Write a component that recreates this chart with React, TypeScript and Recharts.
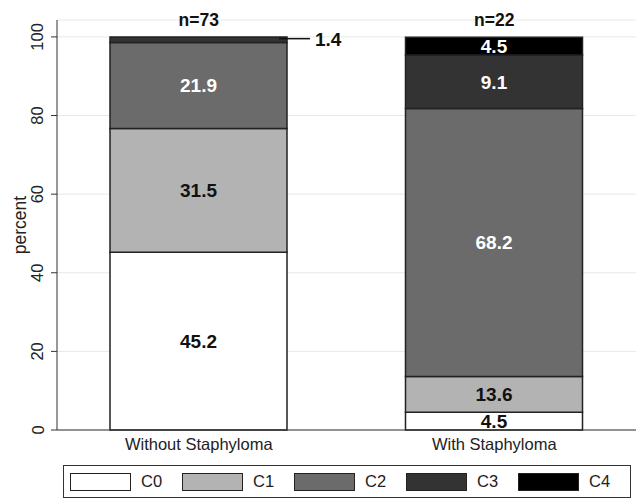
import React from 'react';
import { BarChart, Bar, XAxis, YAxis, CartesianGrid, LabelList, Legend, ReferenceDot, Label } from 'recharts';

const categories = ['Without Staphyloma', 'With Staphyloma'];
const sampleSizes = ['n=73', 'n=22'];
const seriesKeys = ['C0', 'C1', 'C2', 'C3', 'C4'];
const c0Values = [45.2, 4.5];
const c1Values = [31.5, 9.1];
const c2Values = [21.9, 68.2];
const c3Values = [1.4, 13.6];
const c4Values = [0, 4.5];
const labelsWithout = ['45.2', '31.5', '21.9', '1.4', ''];
const labelsWith = ['4.5', '13.6', '68.2', '9.1', '4.5'];
const yTicks = [0, 20, 40, 60, 80, 100];

const seriesValues = [c0Values, c1Values, c2Values, c3Values, c4Values];
const labelSets = [labelsWithout, labelsWith];
const fills = ['#ffffff', '#b3b3b3', '#6b6b6b', '#333333', '#000000'];
const textFills = ['#111111', '#111111', '#ffffff', '#ffffff', '#ffffff'];
const FONT = '"Liberation Sans", Arial, Helvetica, sans-serif';

const data = categories.map((cat, i) => {
  const row: any = { cat, n: sampleSizes[i] };
  seriesKeys.forEach((k, s) => {
    row[k] = seriesValues[s][i];
    row[k + '_label'] = labelSets[i][s];
  });
  return row;
});

const makeLabel = (s: number) => (props: any) => {
  const vb = props.viewBox && props.viewBox.width !== undefined ? props.viewBox : props;
  const x = Number(vb.x), y = Number(vb.y), w = Number(vb.width), h = Number(vb.height);
  const v = props.value;
  if (v === '' || v === undefined || v === null) return null;
  const cy = y + h / 2;
  if (Math.abs(h) < 8) {
    return (
      <g>
        <line x1={x + w - 8} y1={cy - 1} x2={x + w + 23} y2={cy - 1} stroke="#111" strokeWidth={1.5} />
        <text x={x + w + 28} y={cy} dy="0.36em" textAnchor="start" fontFamily={FONT} fontWeight="bold" fontSize={19} fill="#111">{v}</text>
      </g>
    );
  }
  return (
    <text x={x + w / 2} y={cy} dy="0.36em" textAnchor="middle" fontFamily={FONT} fontWeight="bold" fontSize={19} fill={textFills[s]}>{v}</text>
  );
};

const YTick = (props: any) => {
  const { x, y, payload } = props;
  const tx = x - 7.5;
  return (
    <text x={tx} y={y} transform={`rotate(-90 ${tx} ${y})`} textAnchor="middle" fontFamily={FONT} fontSize={16.5} fill="#222">{payload.value}</text>
  );
};

const XTick = (props: any) => {
  const { x, y, payload } = props;
  return (
    <text x={x} y={y + 19.5} textAnchor="middle" fontFamily={FONT} fontSize={16.5} fill="#222">{payload.value}</text>
  );
};

const LegendBox = () => (
  <div style={{
    boxSizing: 'border-box', width: 568, height: 33, border: '1px solid #333', background: '#fff',
    display: 'flex', alignItems: 'center', paddingLeft: 6, fontFamily: FONT, fontSize: 16.5, color: '#222',
  }}>
    {seriesKeys.map((k, s) => (
      <div key={k} style={{ width: 115, display: 'flex', alignItems: 'center' }}>
        <div style={{ boxSizing: 'border-box', width: 61, height: 18, background: fills[s], border: '1.5px solid #222', marginRight: 10 }} />
        <span>{k}</span>
      </div>
    ))}
  </div>
);

export default function App() {
  return (
    <div style={{ position: 'absolute', left: 0, top: 0, background: '#fff' }}>
      <BarChart width={638} height={500} data={data} margin={{ top: 20, right: 2, bottom: 50, left: 0 }} barSize={177}>
        <CartesianGrid vertical={false} stroke="#e8e8e8" strokeWidth={1} />
        <XAxis dataKey="cat" height={20} padding={{ left: -6, right: -6 }} tickLine={false} tickSize={0} tickMargin={0}
          axisLine={{ stroke: '#333', strokeWidth: 1 }} tick={<XTick />} interval={0} />
        <YAxis width={57} domain={[0, 104.3]} ticks={yTicks} interval={0} tickSize={6} tickMargin={0}
          tickLine={{ stroke: '#333', strokeWidth: 1 }} axisLine={{ stroke: '#333', strokeWidth: 1 }} tick={<YTick />}>
          <Label content={(p: any) => {
            const vb = p.viewBox;
            const lx = vb.x + 26;
            const ly = vb.y + vb.height / 2;
            return <text x={lx} y={ly} transform={`rotate(-90 ${lx} ${ly})`} textAnchor="middle" fontFamily={FONT} fontSize={17.5} fill="#222">percent</text>;
          }} />
        </YAxis>
        {seriesKeys.map((k, s) => (
          <Bar key={k} dataKey={k} stackId="a" fill={fills[s]} stroke="#222" strokeWidth={1.5} isAnimationActive={false}>
            <LabelList dataKey={k + '_label'} content={makeLabel(s)} />
          </Bar>
        ))}
        {data.map((d) => (
          <ReferenceDot key={d.cat} x={d.cat} y={100} r={0}
            shape={(p: any) => <text x={p.cx} y={p.cy - 11} textAnchor="middle" fontFamily={FONT} fontWeight="bold" fontSize={17.5} fill="#111">{d.n}</text>} />
        ))}
        <Legend verticalAlign="middle" align="center" layout="horizontal" content={<LegendBox />}
          wrapperStyle={{ position: 'absolute', left: 63, top: 465, width: 568, height: 33 }} />
      </BarChart>
    </div>
  );
}
